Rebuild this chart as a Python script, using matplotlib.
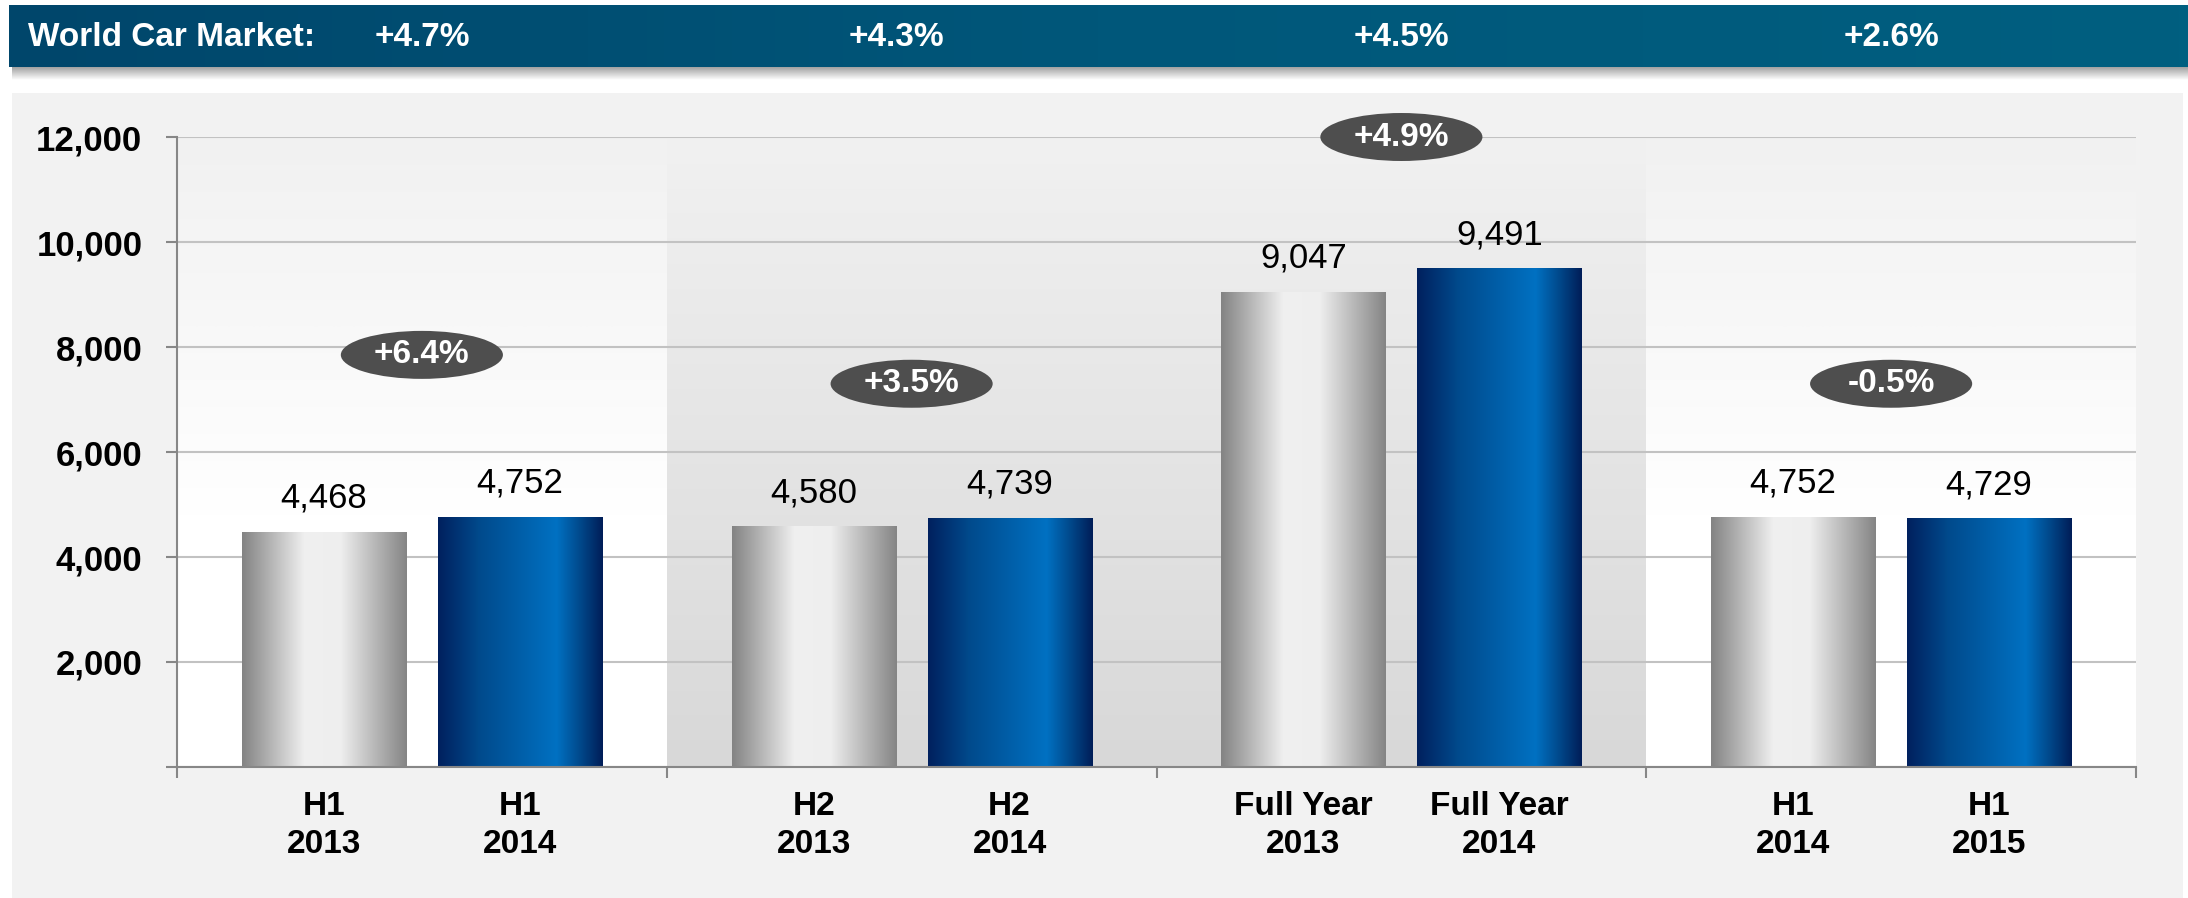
import numpy as np
import matplotlib
matplotlib.use("Agg")
import matplotlib.pyplot as plt
from matplotlib.colors import LinearSegmentedColormap
from matplotlib.patches import Ellipse, Rectangle
from matplotlib.ticker import FuncFormatter
from matplotlib.transforms import blended_transform_factory

plt.rcParams['font.family'] = ['Liberation Sans', 'DejaVu Sans']

# --- data ---
labels = ["H1\n2013", "H1\n2014", "H2\n2013", "H2\n2014",
          "Full Year\n2013", "Full Year\n2014", "H1\n2014", "H1\n2015"]
values = [4468, 4752, 4580, 4739, 9047, 9491, 4752, 4729]
group_growth = ["+6.4%", "+3.5%", "+4.9%", "-0.5%"]
growth_y = [7850, 7300, 12000, 7300]
world_market = ["+4.7%", "+4.3%", "+4.5%", "+2.6%"]

W, H = 2188, 898
fig = plt.figure(figsize=(W / 100, H / 100), dpi=100, facecolor="white")


def vgrad(stops, n=256):
    cmap = LinearSegmentedColormap.from_list("g", stops)
    return cmap(np.linspace(0, 1, n))


# --- background layer in pixel coordinates ---
bg = fig.add_axes([0, 0, 1, 1], zorder=-5)
bg.axis("off")

# header bar with a soft shadow under it
shadow = vgrad([(0, "#9a9a9a"), (1, "#ffffff")], 64)[:, None, :]
bg.imshow(shadow, extent=(12, W, 80, 66), aspect="auto", zorder=0)
head = vgrad([(0, "#00466b"), (0.5, "#00577a"), (1, "#005f80")])[None, :, :]
bg.imshow(head, extent=(9, W, 67, 5), aspect="auto", zorder=1)
bg.add_patch(Rectangle((12, 93), W - 17, H - 93, facecolor="#f2f2f2",
                       edgecolor="none", zorder=0))
bg.set_xlim(0, W)
bg.set_ylim(H, 0)

# --- main chart ---
ax = fig.add_axes([177 / W, 1 - 767 / H, 1959 / W, 630 / H], zorder=1)
ax.set_facecolor("none")

n_groups = len(group_growth)
xpos = np.repeat(np.arange(n_groups), 2) + np.tile([-0.2, 0.2], n_groups)
bar_w = 0.335

# background zones: outer groups light, middle groups darker
light_zone = vgrad([(0, "#ffffff"), (0.4, "#ffffff"), (1, "#f1f1f1")])[:, None, :]
dark_zone = vgrad([(0, "#d8d8d8"), (1, "#f1f1f1")])[:, None, :]
for g in range(n_groups):
    img = dark_zone if g in (1, 2) else light_zone
    ax.imshow(img, extent=(g - 0.5, g + 0.5, 0, 12000), origin="lower",
              aspect="auto", zorder=0.1)

gray_grad = vgrad([(0, "#838383"), (0.38, "#f0f0f0"), (0.6, "#eeeeee"),
                   (1, "#858585")])[None, :, :]
blue_grad = vgrad([(0, "#00205e"), (0.25, "#004a8c"), (0.72, "#0071c2"),
                   (0.88, "#004485"), (1, "#001d58")])[None, :, :]

bars = ax.bar(xpos, values, bar_w, color="none", edgecolor="none", zorder=2)
for i, b in enumerate(bars):
    x0 = b.get_x()
    grad = gray_grad if i % 2 == 0 else blue_grad
    ax.imshow(grad, extent=(x0, x0 + b.get_width(), 0, b.get_height()),
              aspect="auto", zorder=2)
    ax.annotate(f"{values[i]:,}", (b.get_x() + b.get_width() / 2, b.get_height()),
                xytext=(0, 24.5), textcoords="offset points",
                ha="center", va="center", fontsize=25, color="black", zorder=4)

# growth ellipses
for g, (txt, gy) in enumerate(zip(group_growth, growth_y)):
    ax.add_patch(Ellipse((g, gy), 0.331, 914, facecolor="#4e4e4e",
                         edgecolor="none", zorder=3, clip_on=False))
    ax.text(g, gy, txt, ha="center", va="center", fontsize=24,
            fontweight="bold", color="white", zorder=4, clip_on=False)

ax.set_xlim(-0.5, n_groups - 0.5)
ax.set_ylim(0, 12000)

# axes styling
for s in ("top", "right"):
    ax.spines[s].set_visible(False)
for s in ("left", "bottom"):
    ax.spines[s].set_color("#878787")
    ax.spines[s].set_linewidth(1.5)
    ax.spines[s].set_zorder(5)

ax.set_yticks(np.arange(0, 12001, 2000))
ax.yaxis.set_major_formatter(FuncFormatter(lambda v, p: "" if v == 0 else f"{int(v):,}"))
ax.tick_params(axis="y", direction="out", length=8, width=1.5, color="#878787",
               labelsize=25, pad=17)
for t in ax.get_yticklabels():
    t.set_fontweight("bold")
ax.set_axisbelow(True)
ax.yaxis.grid(True, color="#c2c2c2", linewidth=1.5)

ax.set_xticks(xpos)
ax.set_xticklabels(labels)
ax.set_xticks(np.arange(-0.5, n_groups), minor=True)
ax.tick_params(axis="x", which="major", length=0, labelsize=24, pad=17)
ax.tick_params(axis="x", which="minor", direction="out", length=8, width=1.5,
               color="#878787")
for t in ax.get_xticklabels():
    t.set_fontweight("bold")
    t.set_linespacing(1.3)

# header texts
fig.text(28 / W, 1 - 37 / H, "World Car Market:", ha="left", va="center",
         fontsize=24, fontweight="bold", color="white")
trans = blended_transform_factory(ax.transData, fig.transFigure)
header_shift = [0, -0.03, 0, 0]
for g, txt in enumerate(world_market):
    fig.text(g + header_shift[g], 1 - 37 / H, txt, transform=trans,
             ha="center", va="center", fontsize=24, fontweight="bold",
             color="white")

fig.savefig("out.png", dpi=100, facecolor=fig.get_facecolor())
